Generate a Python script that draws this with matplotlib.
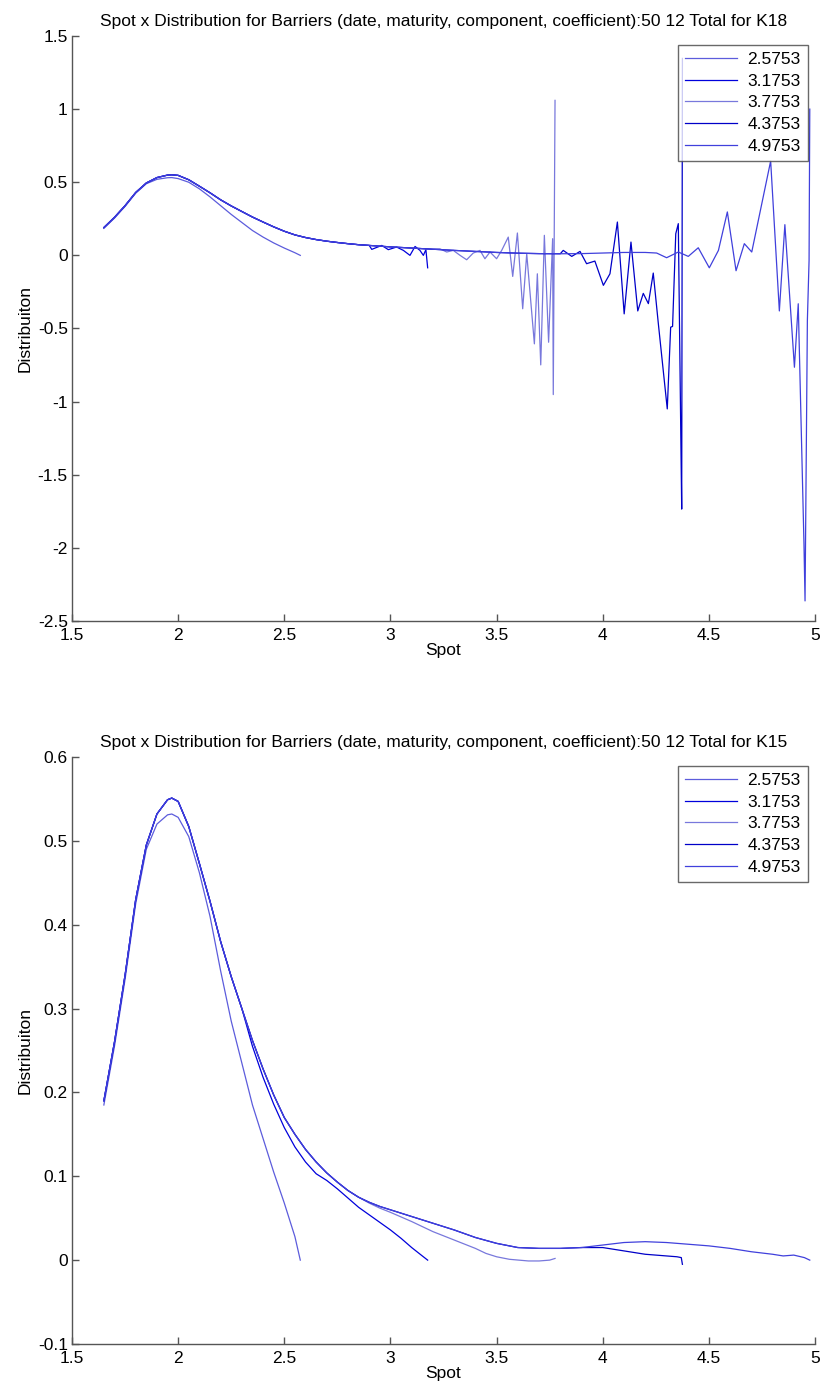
import numpy as np
import matplotlib
matplotlib.use("Agg")
import matplotlib.pyplot as plt
from matplotlib.ticker import FuncFormatter

plt.rcParams['font.family'] = ['Liberation Sans', 'DejaVu Sans']
plt.rcParams['axes.unicode_minus'] = False

labels = ['2.5753', '3.1753', '3.7753', '4.3753', '4.9753']
colors = ['#5c5cdc', '#0000dc', '#7878dc', '#0000c8', '#4040dc']

# ---- K15 (bottom) ----
head_x = [1.65, 1.70, 1.75, 1.80, 1.85, 1.90, 1.95, 1.97, 2.00, 2.05, 2.10, 2.15, 2.20, 2.25, 2.30]
head_y = [0.19, 0.26, 0.34, 0.43, 0.495, 0.532, 0.549, 0.551, 0.547, 0.517, 0.473, 0.428, 0.38, 0.338, 0.30]

k15_c1_x = [1.65, 1.70, 1.75, 1.80, 1.85, 1.90, 1.95, 1.97, 2.00, 2.05, 2.10, 2.15, 2.20, 2.25,
            2.30, 2.35, 2.40, 2.45, 2.50, 2.55, 2.5753]
k15_c1_y = [0.185, 0.255, 0.335, 0.425, 0.49, 0.52, 0.531, 0.532, 0.528, 0.505, 0.462, 0.41, 0.345, 0.285,
            0.235, 0.185, 0.145, 0.105, 0.068, 0.028, 0.0]

k15_c2_x = [2.35, 2.40, 2.45, 2.50, 2.55, 2.60, 2.65, 2.70, 2.75, 2.80, 2.85, 2.90, 2.95, 3.00,
            3.05, 3.10, 3.15, 3.1753]
k15_c2_y = [0.255, 0.218, 0.186, 0.158, 0.135, 0.117, 0.103, 0.095, 0.085, 0.074, 0.063, 0.054, 0.045, 0.036,
            0.026, 0.015, 0.005, 0.0]

upper_x = [2.35, 2.40, 2.45, 2.50, 2.55, 2.60, 2.65, 2.70, 2.75, 2.80, 2.85]
upper_y = [0.262, 0.228, 0.197, 0.170, 0.150, 0.132, 0.117, 0.104, 0.093, 0.083, 0.075]

k15_c3_x = [2.90, 2.95, 3.00, 3.10, 3.15, 3.20, 3.30, 3.40, 3.45, 3.50, 3.56, 3.65, 3.70, 3.75, 3.7753]
k15_c3_y = [0.068, 0.062, 0.057, 0.046, 0.040, 0.034, 0.024, 0.014, 0.008, 0.004, 0.001, -0.001, -0.001, 0.0, 0.002]

mid_x = [2.90, 2.95, 3.00, 3.10, 3.20, 3.30, 3.40, 3.50, 3.60, 3.70, 3.80, 3.90]
mid_y = [0.069, 0.064, 0.060, 0.052, 0.044, 0.036, 0.027, 0.020, 0.015, 0.014, 0.014, 0.015]

k15_c4_x = [4.00, 4.10, 4.20, 4.30, 4.35, 4.37, 4.3753]
k15_c4_y = [0.015, 0.011, 0.007, 0.005, 0.004, 0.003, -0.005]

k15_c5_x = [4.00, 4.10, 4.20, 4.30, 4.40, 4.50, 4.60, 4.70, 4.80, 4.85, 4.90, 4.95, 4.9753]
k15_c5_y = [0.018, 0.021, 0.022, 0.021, 0.019, 0.017, 0.014, 0.010, 0.007, 0.005, 0.006, 0.003, 0.0]

# ---- K18 (top) ----
k18_c1_y = [0.185, 0.255, 0.335, 0.425, 0.49, 0.52, 0.531, 0.532, 0.525, 0.50, 0.455, 0.40, 0.34, 0.28,
            0.225, 0.17, 0.125, 0.085, 0.05, 0.018, 0.0]

k18_up_x = [2.35, 2.40, 2.45, 2.50, 2.55, 2.60, 2.65, 2.70, 2.75, 2.80, 2.85, 2.90]
k18_up_y = [0.262, 0.228, 0.195, 0.165, 0.14, 0.122, 0.108, 0.097, 0.088, 0.080, 0.073, 0.068]

k18_c2_x = [2.912, 2.959, 2.990, 3.029, 3.061, 3.092, 3.116, 3.139, 3.155, 3.167, 3.1753]
k18_c2_y = [0.041, 0.068, 0.039, 0.057, 0.034, 0.0, 0.061, 0.034, 0.0, 0.039, -0.085]

k18_mid_x = [3.0, 3.1, 3.2]
k18_mid_y = [0.058, 0.050, 0.042]

k18_c3_x = [3.233, 3.265, 3.296, 3.328, 3.359, 3.390, 3.422, 3.445, 3.469, 3.500, 3.524, 3.555, 3.576,
            3.598, 3.623, 3.642, 3.678, 3.692, 3.708, 3.725, 3.745, 3.764, 3.767, 3.772, 3.7753]
k18_c3_y = [0.045, 0.023, 0.034, 0.0, -0.03, 0.016, 0.034, -0.023, 0.023, -0.023, 0.034, 0.125, -0.144,
            0.153, -0.365, 0.011, -0.605, -0.126, -0.749, 0.137, -0.594, 0.114, -0.952, 0.26, 1.06]

k18_tail_x = [3.3, 3.4, 3.5, 3.6, 3.7, 3.8]
k18_tail_y = [0.034, 0.027, 0.020, 0.015, 0.012, 0.011]

k18_c4_x = [3.814, 3.854, 3.893, 3.924, 3.963, 4.003, 4.034, 4.069, 4.101, 4.133, 4.165, 4.191, 4.215,
            4.238, 4.262, 4.304, 4.320, 4.329, 4.344, 4.356, 4.369, 4.372, 4.3753]
k18_c4_y = [0.034, -0.007, 0.027, -0.057, -0.039, -0.205, -0.126, 0.228, -0.40, 0.091, -0.38, -0.26, -0.33,
            -0.121, -0.468, -1.05, -0.491, -0.486, 0.148, 0.217, -1.38, -1.735, 1.347]

k18_c5_x = [3.9, 4.0, 4.1, 4.2, 4.254, 4.301, 4.356, 4.403, 4.450, 4.502, 4.545, 4.587, 4.628, 4.667,
            4.702, 4.791, 4.832, 4.858, 4.903, 4.921, 4.948, 4.953, 4.964, 4.972, 4.9753]
k18_c5_y = [0.012, 0.016, 0.020, 0.020, 0.016, -0.016, 0.023, -0.007, 0.052, -0.085, 0.034, 0.297, -0.105, 0.08,
            0.023, 0.645, -0.38, 0.21, -0.765, -0.331, -1.975, -2.363, -0.445, -0.034, 1.0]

k15 = [
    (k15_c1_x, k15_c1_y),
    (head_x + k15_c2_x, head_y + k15_c2_y),
    (head_x + upper_x + k15_c3_x, head_y + upper_y + k15_c3_y),
    (head_x + upper_x + mid_x + k15_c4_x, head_y + upper_y + mid_y + k15_c4_y),
    (head_x + upper_x + mid_x + k15_c5_x, head_y + upper_y + mid_y + k15_c5_y),
]
k18 = [
    (k15_c1_x, k18_c1_y),
    (head_x + k18_up_x + k18_c2_x, head_y + k18_up_y + k18_c2_y),
    (head_x + k18_up_x + k18_mid_x + k18_c3_x, head_y + k18_up_y + k18_mid_y + k18_c3_y),
    (head_x + k18_up_x + k18_mid_x + k18_tail_x + k18_c4_x,
     head_y + k18_up_y + k18_mid_y + k18_tail_y + k18_c4_y),
    (head_x + k18_up_x + k18_mid_x + k18_tail_x + k18_c5_x,
     head_y + k18_up_y + k18_mid_y + k18_tail_y + k18_c5_y),
]

fig = plt.figure(figsize=(8.24, 13.91), dpi=100)
ax1 = fig.add_axes([0.0874, 0.5536, 0.9017, 0.4205])
ax2 = fig.add_axes([0.0874, 0.0338, 0.9017, 0.4220])

fmt = FuncFormatter(lambda v, p: '%g' % round(v, 3))


def style(ax, title, yticks):
    for s in ['top', 'right']:
        ax.spines[s].set_visible(False)
    for s in ['left', 'bottom']:
        ax.spines[s].set_color('#555555')
        ax.spines[s].set_linewidth(1.0)
    ax.set_xlim(1.5, 5)
    ax.set_xticks(np.arange(1.5, 5.01, 0.5))
    ax.set_ylim(yticks[0], yticks[-1])
    ax.set_yticks(yticks)
    ax.xaxis.set_major_formatter(fmt)
    ax.yaxis.set_major_formatter(fmt)
    ax.tick_params(direction='in', length=5, width=1, color='#555555', labelsize=12.5,
                   top=False, right=False)
    ax.tick_params(axis='x', pad=5)
    ax.tick_params(axis='y', pad=3)
    ax.set_title(title, fontsize=12.5, pad=7)
    ax.set_xlabel('Spot', fontsize=12.5, labelpad=0)
    ax.set_ylabel('Distribuiton', fontsize=12.5, labelpad=4)


for ax, curves, title, yt in [
    (ax1, k18, 'Spot x Distribution for Barriers (date, maturity, component, coefficient):50 12 Total for K18',
     np.arange(-2.5, 1.51, 0.5)),
    (ax2, k15, 'Spot x Distribution for Barriers (date, maturity, component, coefficient):50 12 Total for K15',
     np.arange(-0.1, 0.61, 0.1)),
]:
    for (x, y), c, lab in zip(curves, colors, labels):
        ax.plot(x, y, color=c, lw=0.9, label=lab)
    style(ax, title, yt)
    leg = ax.legend(loc='upper right', bbox_to_anchor=(0.99, 0.985), fontsize=12.5, frameon=True,
                    fancybox=False, handlelength=3.0, handletextpad=0.6, borderpad=0.4,
                    labelspacing=0.38, borderaxespad=0)
    leg.get_frame().set_edgecolor('#444444')
    leg.get_frame().set_linewidth(1.0)

fig.savefig('out.png', dpi=100)
